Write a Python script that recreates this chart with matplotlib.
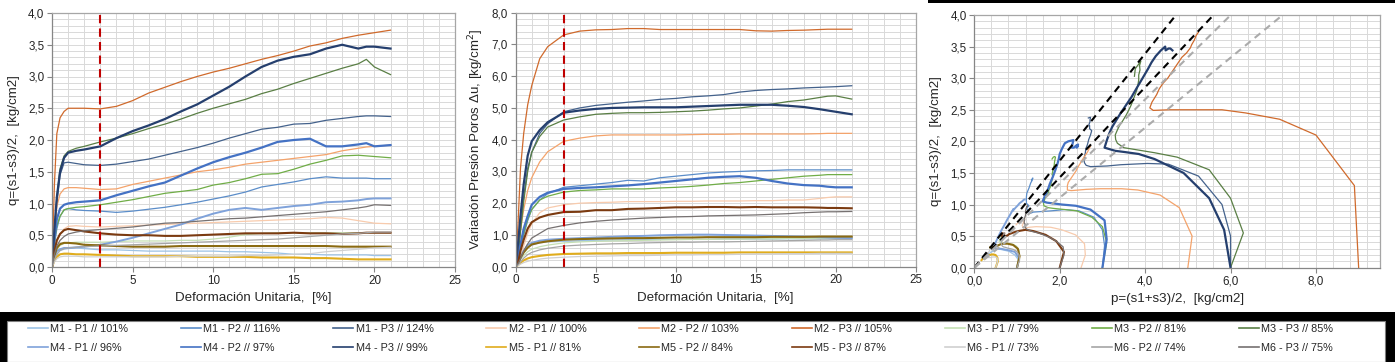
import matplotlib
matplotlib.use("Agg")
import matplotlib.pyplot as plt
from matplotlib.patches import Rectangle
from matplotlib.ticker import MultipleLocator, FuncFormatter

plt.rcParams['font.family'] = ['Liberation Sans', 'DejaVu Sans']

# ---------------- data ----------------
strain = [0, 0.15, 0.3, 0.5, 0.75, 1, 1.5, 2, 3, 4, 5, 6, 7, 8, 9, 10, 11, 12,
          13, 14, 15, 16, 17, 18, 19, 19.5, 20, 21]

labels = ["M1 - P1 // 101%", "M1 - P2 // 116%", "M1 - P3 // 124%",
          "M2 - P1 // 100%", "M2 - P2 // 103%", "M2 - P3 // 105%",
          "M3 - P1 // 79%", "M3 - P2 // 81%", "M3 - P3 // 85%",
          "M4 - P1 // 96%", "M4 - P2 // 97%", "M4 - P3 // 99%",
          "M5 - P1 // 81%", "M5 - P2 // 84%", "M5 - P3 // 87%",
          "M6 - P1 // 73%", "M6 - P2 // 74%", "M6 - P3 // 75%"]

# confining stress of each test [kg/cm2]
sigma3 = [1.0, 3.0, 6.0, 2.5, 5.0, 9.0, 1.0, 3.0, 6.0,
          1.0, 3.0, 6.0, 0.5, 1.0, 2.0, 0.5, 1.0, 2.0]

# deviator q=(s1-s3)/2 [kg/cm2]
q_m1p1 = [0, 0.12, 0.2, 0.26, 0.28, 0.29, 0.3, 0.29, 0.27, 0.27, 0.26, 0.25, 0.25, 0.25, 0.25, 0.25, 0.24, 0.24, 0.23, 0.22, 0.2, 0.2, 0.19, 0.19, 0.19, 0.19, 0.18, 0.18]
q_m1p2 = [0, 0.35, 0.6, 0.8, 0.9, 0.92, 0.9, 0.89, 0.88, 0.86, 0.88, 0.91, 0.94, 0.98, 1.02, 1.07, 1.12, 1.18, 1.26, 1.3, 1.34, 1.39, 1.42, 1.4, 1.4, 1.4, 1.39, 1.39]
q_m1p3 = [0, 0.5, 1.0, 1.45, 1.64, 1.65, 1.63, 1.61, 1.6, 1.62, 1.66, 1.7, 1.76, 1.82, 1.88, 1.95, 2.03, 2.1, 2.17, 2.2, 2.25, 2.26, 2.31, 2.34, 2.37, 2.38, 2.38, 2.37]
q_m2p1 = [0, 0.2, 0.38, 0.52, 0.6, 0.64, 0.65, 0.64, 0.63, 0.64, 0.65, 0.66, 0.67, 0.68, 0.69, 0.7, 0.71, 0.72, 0.73, 0.74, 0.75, 0.76, 0.78, 0.77, 0.73, 0.71, 0.69, 0.68]
q_m2p2 = [0, 0.5, 0.95, 1.15, 1.23, 1.25, 1.25, 1.24, 1.22, 1.23, 1.3, 1.35, 1.4, 1.45, 1.5, 1.53, 1.57, 1.62, 1.65, 1.68, 1.71, 1.74, 1.77, 1.83, 1.87, 1.89, 1.9, 1.92]
q_m2p3 = [0, 1.3, 2.1, 2.35, 2.45, 2.5, 2.5, 2.5, 2.49, 2.53, 2.62, 2.74, 2.83, 2.92, 3.0, 3.07, 3.13, 3.2, 3.27, 3.33, 3.4, 3.48, 3.53, 3.6, 3.65, 3.67, 3.69, 3.73]
q_m3p1 = [0, 0.15, 0.27, 0.34, 0.37, 0.38, 0.39, 0.39, 0.39, 0.4, 0.41, 0.41, 0.41, 0.42, 0.42, 0.44, 0.47, 0.51, 0.53, 0.54, 0.54, 0.54, 0.54, 0.54, 0.54, 0.54, 0.54, 0.54]
q_m3p2 = [0, 0.4, 0.65, 0.8, 0.9, 0.92, 0.94, 0.95, 0.98, 1.02, 1.06, 1.11, 1.16, 1.19, 1.22, 1.29, 1.33, 1.39, 1.46, 1.47, 1.54, 1.62, 1.68, 1.75, 1.76, 1.75, 1.74, 1.72]
q_m3p3 = [0, 0.55, 1.1, 1.55, 1.75, 1.82, 1.87, 1.9, 1.97, 2.03, 2.1, 2.18, 2.25, 2.33, 2.42, 2.5, 2.57, 2.64, 2.73, 2.8, 2.89, 2.97, 3.05, 3.13, 3.2, 3.27, 3.15, 3.03]
q_m4p1 = [0, 0.15, 0.25, 0.28, 0.3, 0.3, 0.31, 0.32, 0.35, 0.4, 0.46, 0.53, 0.6, 0.67, 0.76, 0.84, 0.9, 0.93, 0.9, 0.93, 0.96, 0.98, 1.02, 1.03, 1.05, 1.07, 1.08, 1.08]
q_m4p2 = [0, 0.45, 0.75, 0.92, 0.98, 1.0, 1.02, 1.03, 1.05, 1.13, 1.2, 1.27, 1.33, 1.44, 1.55, 1.65, 1.73, 1.8, 1.88, 1.97, 2.0, 2.02, 1.9, 1.9, 1.93, 1.95, 1.9, 1.92]
q_m4p3 = [0, 0.6, 1.1, 1.5, 1.72, 1.8, 1.83, 1.85, 1.9, 2.03, 2.14, 2.23, 2.33, 2.45, 2.56, 2.7, 2.84, 3.0, 3.15, 3.25, 3.31, 3.35, 3.44, 3.5, 3.44, 3.47, 3.47, 3.44]
q_m5p1 = [0, 0.1, 0.16, 0.2, 0.21, 0.21, 0.2, 0.2, 0.19, 0.18, 0.17, 0.17, 0.17, 0.17, 0.16, 0.16, 0.16, 0.16, 0.15, 0.15, 0.15, 0.14, 0.14, 0.13, 0.12, 0.12, 0.12, 0.12]
q_m5p2 = [0, 0.18, 0.3, 0.36, 0.38, 0.38, 0.37, 0.35, 0.34, 0.33, 0.32, 0.32, 0.32, 0.33, 0.33, 0.33, 0.33, 0.33, 0.33, 0.33, 0.33, 0.33, 0.33, 0.32, 0.32, 0.32, 0.32, 0.32]
q_m5p3 = [0, 0.25, 0.42, 0.52, 0.58, 0.6, 0.58, 0.56, 0.53, 0.51, 0.5, 0.5, 0.49, 0.49, 0.5, 0.51, 0.52, 0.53, 0.53, 0.53, 0.54, 0.53, 0.53, 0.52, 0.53, 0.54, 0.54, 0.54]
q_m6p1 = [0, 0.08, 0.13, 0.16, 0.17, 0.17, 0.17, 0.16, 0.16, 0.16, 0.16, 0.16, 0.16, 0.17, 0.17, 0.17, 0.17, 0.18, 0.18, 0.19, 0.2, 0.21, 0.24, 0.26, 0.28, 0.29, 0.3, 0.31]
q_m6p2 = [0, 0.12, 0.2, 0.26, 0.29, 0.3, 0.31, 0.32, 0.33, 0.34, 0.35, 0.36, 0.37, 0.38, 0.39, 0.4, 0.41, 0.42, 0.43, 0.44, 0.46, 0.48, 0.5, 0.52, 0.53, 0.54, 0.55, 0.55]
q_m6p3 = [0, 0.2, 0.33, 0.42, 0.48, 0.52, 0.55, 0.57, 0.59, 0.61, 0.63, 0.66, 0.69, 0.7, 0.72, 0.74, 0.76, 0.77, 0.79, 0.81, 0.83, 0.85, 0.87, 0.9, 0.93, 0.95, 0.98, 0.97]

# pore pressure change du [kg/cm2]
du_m1p1 = [0, 0.08, 0.25, 0.45, 0.6, 0.68, 0.75, 0.78, 0.8, 0.82, 0.83, 0.84, 0.85, 0.85, 0.86, 0.86, 0.86, 0.86, 0.87, 0.87, 0.87, 0.87, 0.88, 0.88, 0.88, 0.88, 0.88, 0.88]
du_m1p2 = [0, 0.3, 0.6, 1.0, 1.45, 1.8, 2.1, 2.3, 2.5, 2.55, 2.6, 2.65, 2.72, 2.7, 2.8, 2.85, 2.9, 2.95, 2.98, 3.0, 3.02, 3.03, 3.05, 3.05, 3.05, 3.05, 3.05, 3.05]
du_m1p3 = [0, 0.5, 1.2, 2.2, 3.1, 3.6, 4.2, 4.5, 4.88, 5.0, 5.08, 5.13, 5.18, 5.22, 5.27, 5.3, 5.35, 5.38, 5.42, 5.5, 5.55, 5.58, 5.6, 5.63, 5.65, 5.66, 5.67, 5.7]
du_m2p1 = [0, 0.1, 0.3, 0.65, 1.05, 1.35, 1.7, 1.85, 1.95, 2.0, 2.02, 2.03, 2.05, 2.05, 2.05, 2.06, 2.06, 2.07, 2.07, 2.07, 2.08, 2.08, 2.1, 2.1, 2.15, 2.18, 2.2, 2.2]
du_m2p2 = [0, 0.4, 1.15, 1.8, 2.4, 2.8, 3.3, 3.62, 3.95, 4.05, 4.12, 4.15, 4.15, 4.15, 4.15, 4.15, 4.16, 4.17, 4.17, 4.18, 4.18, 4.18, 4.18, 4.18, 4.19, 4.2, 4.2, 4.2]
du_m2p3 = [0, 1.4, 3.1, 4.2, 5.1, 5.7, 6.55, 6.93, 7.3, 7.42, 7.46, 7.47, 7.5, 7.5, 7.47, 7.47, 7.47, 7.47, 7.47, 7.47, 7.43, 7.42, 7.44, 7.45, 7.47, 7.48, 7.48, 7.48]
du_m3p1 = [0, 0.1, 0.22, 0.35, 0.47, 0.55, 0.63, 0.68, 0.75, 0.78, 0.8, 0.81, 0.82, 0.83, 0.84, 0.85, 0.86, 0.86, 0.87, 0.87, 0.88, 0.88, 0.89, 0.89, 0.9, 0.9, 0.9, 0.9]
du_m3p2 = [0, 0.3, 0.65, 1.05, 1.5, 1.8, 2.1, 2.22, 2.35, 2.4, 2.42, 2.45, 2.45, 2.45, 2.48, 2.5, 2.53, 2.57, 2.62, 2.65, 2.7, 2.75, 2.8, 2.85, 2.88, 2.9, 2.9, 2.9]
du_m3p3 = [0, 0.25, 1.1, 2.05, 3.0, 3.6, 4.1, 4.4, 4.62, 4.72, 4.8, 4.83, 4.85, 4.85, 4.86, 4.88, 4.9, 4.93, 4.97, 5.0, 5.06, 5.12, 5.2, 5.25, 5.33, 5.37, 5.38, 5.28]
du_m4p1 = [0, 0.1, 0.3, 0.5, 0.68, 0.75, 0.82, 0.85, 0.88, 0.9, 0.92, 0.94, 0.96, 0.97, 0.99, 1.0, 1.01, 1.01, 1.0, 0.99, 0.98, 0.97, 0.96, 0.95, 0.93, 0.92, 0.91, 0.9]
du_m4p2 = [0, 0.35, 0.7, 1.2, 1.6, 1.95, 2.2, 2.33, 2.45, 2.48, 2.5, 2.53, 2.56, 2.6, 2.65, 2.7, 2.75, 2.8, 2.83, 2.85, 2.8, 2.7, 2.62, 2.57, 2.55, 2.52, 2.5, 2.5]
du_m4p3 = [0, 0.75, 1.6, 2.6, 3.5, 3.95, 4.3, 4.55, 4.85, 4.92, 4.97, 5.0, 5.01, 5.02, 5.02, 5.02, 5.04, 5.06, 5.08, 5.1, 5.1, 5.1, 5.07, 5.03, 4.96, 4.92, 4.88, 4.8]
du_m5p1 = [0, 0.05, 0.12, 0.2, 0.26, 0.3, 0.34, 0.37, 0.4, 0.41, 0.42, 0.42, 0.43, 0.43, 0.43, 0.44, 0.44, 0.44, 0.44, 0.45, 0.45, 0.45, 0.45, 0.45, 0.45, 0.45, 0.45, 0.45]
du_m5p2 = [0, 0.12, 0.28, 0.45, 0.6, 0.7, 0.76, 0.8, 0.85, 0.87, 0.88, 0.89, 0.9, 0.9, 0.91, 0.92, 0.92, 0.93, 0.93, 0.93, 0.93, 0.94, 0.94, 0.94, 0.95, 0.95, 0.95, 0.95]
du_m5p3 = [0, 0.15, 0.5, 0.85, 1.2, 1.4, 1.55, 1.63, 1.72, 1.73, 1.78, 1.78, 1.82, 1.83, 1.85, 1.87, 1.87, 1.88, 1.88, 1.87, 1.88, 1.87, 1.87, 1.87, 1.86, 1.85, 1.85, 1.84]
du_m6p1 = [0, 0.04, 0.08, 0.13, 0.17, 0.2, 0.24, 0.27, 0.3, 0.32, 0.33, 0.34, 0.35, 0.35, 0.36, 0.37, 0.37, 0.38, 0.38, 0.39, 0.4, 0.4, 0.41, 0.41, 0.42, 0.42, 0.42, 0.42]
du_m6p2 = [0, 0.06, 0.15, 0.27, 0.38, 0.45, 0.53, 0.58, 0.65, 0.68, 0.7, 0.72, 0.73, 0.75, 0.76, 0.77, 0.77, 0.78, 0.78, 0.79, 0.8, 0.81, 0.82, 0.83, 0.84, 0.84, 0.85, 0.85]
du_m6p3 = [0, 0.1, 0.25, 0.5, 0.72, 0.9, 1.05, 1.2, 1.3, 1.38, 1.43, 1.47, 1.5, 1.53, 1.55, 1.57, 1.58, 1.6, 1.61, 1.62, 1.63, 1.65, 1.67, 1.7, 1.72, 1.73, 1.73, 1.74]

strain_limit = 3.0                     # red dashed reference strain
envelope_black = [0.847, 0.714]        # tan of black dashed envelopes
envelope_grey = [0.666, 0.554]         # tan of grey dashed envelopes

# ---------------- styles ----------------
colors = ['#9DC3E6', '#5B8DC9', '#44628C',
          '#F8CBAD', '#F4A36B', '#D06A2C',
          '#C5E0B4', '#70AD47', '#5A7F45',
          '#7FA2DA', '#4472C4', '#253F6E',
          '#E0AC1C', '#8A6A12', '#7B3A10',
          '#D0D0D0', '#A6A6A6', '#767171']
widths = [0.9, 0.9, 0.9, 0.9, 0.9, 0.9, 0.9, 0.9, 0.9,
          1.4, 1.6, 1.6, 1.5, 1.5, 1.5, 0.9, 0.9, 0.9]

q_series = [q_m1p1, q_m1p2, q_m1p3, q_m2p1, q_m2p2, q_m2p3, q_m3p1, q_m3p2, q_m3p3,
            q_m4p1, q_m4p2, q_m4p3, q_m5p1, q_m5p2, q_m5p3, q_m6p1, q_m6p2, q_m6p3]
du_series = [du_m1p1, du_m1p2, du_m1p3, du_m2p1, du_m2p2, du_m2p3, du_m3p1, du_m3p2, du_m3p3,
             du_m4p1, du_m4p2, du_m4p3, du_m5p1, du_m5p2, du_m5p3, du_m6p1, du_m6p2, du_m6p3]

W, H = 1395, 362
fig = plt.figure(figsize=(W / 100, H / 100), dpi=100)


def box(l, t, r, b):
    return [l / W, 1 - b / H, (r - l) / W, (b - t) / H]


comma = FuncFormatter(lambda v, pos: f"{v:.1f}".replace('.', ','))
intfmt = FuncFormatter(lambda v, pos: f"{v:.0f}")
TICK_FS = 8.4
LAB_FS = 9.6
GRID_C = '#D9D9D9'


def style(ax, xmaj, xmin, ymaj, ymin, xlim, ylim, xfmt, yfmt):
    ax.set_xlim(*xlim)
    ax.set_ylim(*ylim)
    ax.xaxis.set_major_locator(MultipleLocator(xmaj))
    ax.xaxis.set_minor_locator(MultipleLocator(xmin))
    ax.yaxis.set_major_locator(MultipleLocator(ymaj))
    ax.yaxis.set_minor_locator(MultipleLocator(ymin))
    ax.xaxis.set_major_formatter(xfmt)
    ax.yaxis.set_major_formatter(yfmt)
    ax.grid(which='both', color=GRID_C, lw=0.7)
    ax.set_axisbelow(True)
    ax.tick_params(which='major', length=3.5, width=0.8, color='#868686',
                   labelsize=TICK_FS, labelcolor='#262626', pad=2)
    ax.tick_params(which='minor', length=0)
    for s in ['left', 'bottom']:
        ax.spines[s].set_color('#868686')
        ax.spines[s].set_linewidth(0.9)
    for s in ['top', 'right']:
        ax.spines[s].set_color('#A6A6A6')
        ax.spines[s].set_linewidth(0.9)


# panel 1: q vs strain
ax1 = fig.add_axes(box(52, 13, 455, 267))
handles = []
for q, c, w, lab in zip(q_series, colors, widths, labels):
    h, = ax1.plot(strain, q, color=c, lw=w, label=lab)
    handles.append(h)
ax1.axvline(strain_limit, color='#C00000', lw=1.5, ls=(0, (4, 2.5)))
style(ax1, 5, 1, 0.5, 0.1, (0, 25), (0, 4), intfmt, comma)
ax1.set_xlabel('Deformación Unitaria,  [%]', fontsize=LAB_FS, color='#262626', labelpad=4)
ax1.set_ylabel('q=(s1-s3)/2,  [kg/cm2]', fontsize=LAB_FS, color='#262626', labelpad=6)

# panel 2: du vs strain
ax2 = fig.add_axes(box(515.7, 12.7, 915.7, 266.7))
for du, c, w in zip(du_series, colors, widths):
    ax2.plot(strain, du, color=c, lw=w)
ax2.axvline(strain_limit, color='#C00000', lw=1.5, ls=(0, (4, 2.5)))
style(ax2, 5, 1, 1.0, 0.2, (0, 25), (0, 8), intfmt, comma)
ax2.set_xlabel('Deformación Unitaria,  [%]', fontsize=LAB_FS, color='#262626', labelpad=4)
ax2.set_ylabel('Variación Presión Poros Δu, [kg/cm$^2$]', fontsize=LAB_FS,
               color='#262626', labelpad=4)

# panel 3: stress paths p-q
ax3 = fig.add_axes(box(974.3, 15, 1380, 267.7))
for s3, q, du, c, w in zip(sigma3, q_series, du_series, colors, widths):
    p = [s3 + qq - uu for qq, uu in zip(q, du)]
    ax3.plot(p, q, color=c, lw=w)
ytop = 4.0
for t in envelope_black:
    ax3.plot([0, ytop / t], [0, ytop], color='black', lw=1.5, ls=(0, (3.5, 2.5)))
for t in envelope_grey:
    ax3.plot([0, ytop / t], [0, ytop], color='#ABABAB', lw=1.5, ls=(0, (3.5, 2.5)))
style(ax3, 2.0, 0.4, 0.5, 0.1, (0, 9.5), (0, 4), comma, comma)
ax3.set_xlabel('p=(s1+s3)/2,  [kg/cm2]', fontsize=LAB_FS, color='#262626', labelpad=4)
ax3.set_ylabel('q=(s1-s3)/2,  [kg/cm2]', fontsize=LAB_FS, color='#262626', labelpad=6)

# frame decorations (black border around legend, top-right line)
fig.patches.append(Rectangle((0, 0), 1, 1 - 312 / H, transform=fig.transFigure,
                             facecolor='black', edgecolor='none', zorder=-2))
fig.patches.append(Rectangle((7 / W, 0), (1385 - 7) / W, 1 - 321 / H,
                             transform=fig.transFigure, facecolor='white',
                             edgecolor='#7F7F7F', lw=0.8, zorder=-1))
fig.patches.append(Rectangle((928 / W, 1 - 2.5 / H), (W - 928) / W, 2.5 / H,
                             transform=fig.transFigure, facecolor='black',
                             edgecolor='none', zorder=-1))

# legend: 2 rows x 9 columns, filled row-wise
order = []
for col in range(9):
    order += [col, col + 9]
leg = fig.legend([handles[i] for i in order], [labels[i] for i in order],
                 ncol=9, loc='center', bbox_to_anchor=(28 / W, 0.0199, 1305 / W, 0.09),
                 mode='expand', frameon=False, fontsize=7.8, handlelength=1.85,
                 handletextpad=0.2, labelspacing=0.8, borderpad=0, borderaxespad=0,
                 columnspacing=1.0)
for t in leg.get_texts():
    t.set_color('#262626')
for l in leg.get_lines():
    l.set_linewidth(1.2)

fig.savefig('out.png', dpi=100)
